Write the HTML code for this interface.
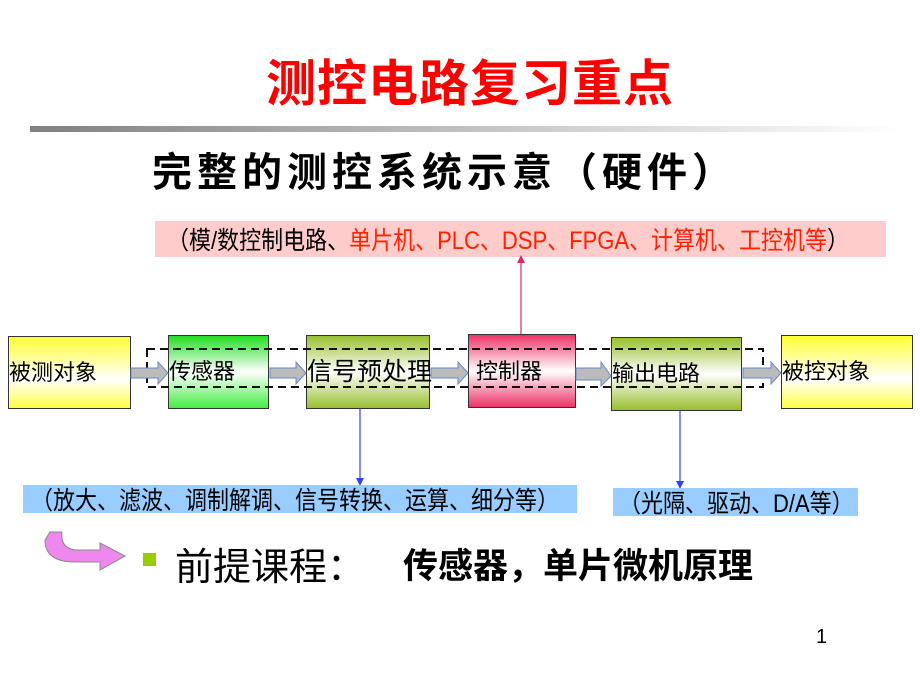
<!DOCTYPE html>
<html><head><meta charset="utf-8"><style>
body{margin:0;width:920px;height:690px;background:#fff;position:relative;overflow:hidden;font-family:"Liberation Sans","Noto Sans CJK SC",sans-serif;}
.a{position:absolute;white-space:nowrap;}
.box{position:absolute;border:1.5px solid #333;box-sizing:border-box;font-size:22px;display:flex;align-items:center;line-height:1;white-space:nowrap;overflow:visible;}
.y{background:linear-gradient(#ffff33,#ffffff 60%,#ffff44);}
.g{background:linear-gradient(#22dd22,#ffffff 50%,#44ee44);}
.o{background:linear-gradient(#99c030,#ffffff 50%,#99c030);}
.r{background:linear-gradient(#ee3366,#ffffff 50%,#ee3366);}
.lab{position:absolute;font-size:25px;display:flex;align-items:center;box-sizing:border-box;white-space:nowrap;}
.lab > span{display:inline-block;transform:scaleX(0.88);transform-origin:left;white-space:nowrap;}
</style></head><body>
<div class="a" style="left:266px;top:44px;font-size:50px;font-weight:bold;color:#ff0000;letter-spacing:1px;">测控电路复习重点</div>
<div class="a" style="left:30px;top:126px;width:870px;height:6px;background:linear-gradient(90deg,#808080,#c8c8c8 55%,#ffffff);"></div>
<div class="a" style="left:152px;top:140px;font-size:40px;font-weight:bold;color:#000;letter-spacing:5px;">完整的测控系统示意（硬件）</div>

<div class="lab" style="left:155px;top:221px;width:731px;height:36px;background:#ffcccc;padding-left:12px;"><span>（模/数控制电路、<b style="color:#ff2200;font-weight:normal">单片机、PLC、DSP、FPGA、计算机、工控机等</b>）</span></div>

<svg class="a" style="left:0;top:0" width="920" height="690">
<line x1="521" y1="334" x2="521" y2="262" stroke="#ee2266" stroke-width="1.2"/>
<polygon points="517,263 525,263 521,255" fill="#ee2266"/>
<line x1="360" y1="408" x2="360" y2="480" stroke="#3344ee" stroke-width="1.2"/>
<polygon points="356,478 364,478 360,486" fill="#3344ee"/>
<line x1="680" y1="410" x2="680" y2="483" stroke="#3344ee" stroke-width="1.2"/>
<polygon points="676,481 684,481 680,489" fill="#3344ee"/>
<path d="M50 532 L62 532 Q60 548 75 550 L100 550 L100 543 L125 556 L100 570 L100 562 L75 562 Q45 562 45 540 Z" fill="#ee88ee" stroke="#888" stroke-width="1"/>
</svg>

<div class="box y" style="left:8px;top:336px;width:123px;height:73px;">被测对象</div>
<div class="box g" style="left:168px;top:335px;width:101px;height:74px;">传感器</div>
<div class="box o" style="left:306px;top:335px;width:124px;height:74px;font-size:25px;">信号预处理</div>
<div class="box r" style="left:468px;top:334px;width:108px;height:74px;padding-left:7px;align-items:flex-start;padding-top:26px;">控制器</div>
<div class="box o" style="left:611px;top:337px;width:131px;height:74px;">输出电路</div>
<div class="box y" style="left:781px;top:335px;width:132px;height:74px;">被控对象</div>

<svg class="a" style="left:0;top:0" width="920" height="690">
<rect x="147" y="349" width="616" height="38" fill="none" stroke="#111" stroke-width="2" stroke-dasharray="8,5"/>
<g fill="#bbbbbb" stroke="#6688cc" stroke-width="1">
<polygon points="131,368 158,368 158,362 168,373 158,384 158,378 131,378"/>
<polygon points="270,368 296,368 296,362 306,373 296,384 296,378 270,378"/>
<polygon points="431,368 458,368 458,362 468,373 458,384 458,378 431,378"/>
<polygon points="576,368 601,368 601,362 611,376 601,386 601,380 576,380"/>
<polygon points="743,368 771,368 771,362 781,373 771,384 771,378 743,378"/>
</g>
</svg>

<div class="lab" style="left:23px;top:485px;width:554px;height:28px;background:#99ccff;padding-left:8px;"><span>（放大、滤波、调制解调、信号转换、运算、细分等）</span></div>
<div class="lab" style="left:613px;top:488px;width:245px;height:28px;background:#99ccff;padding-left:6px;"><span>（光隔、驱动、D/A等）</span></div>

<div class="a" style="left:143px;top:553px;width:13px;height:13px;background:#99cc00;"></div>
<div class="a" style="left:175px;top:536px;font-size:38px;">前提课程：</div>
<div class="a" style="left:403px;top:538px;font-size:35px;font-weight:bold;">传感器，单片微机原理</div>
<div class="a" style="left:816px;top:626px;font-size:20px;">1</div>
</body></html>
